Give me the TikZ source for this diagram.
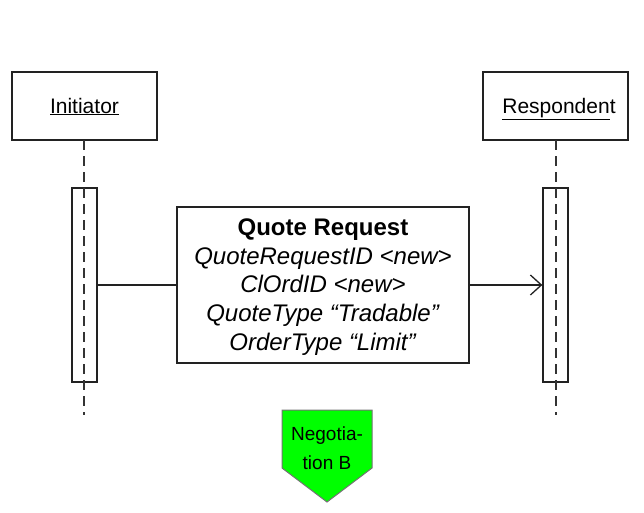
\documentclass[tikz,border=0pt]{standalone}
\usepackage{fontspec}
\setmainfont{Liberation Sans}
\usetikzlibrary{arrows.meta}
\definecolor{ln}{HTML}{222222}
\definecolor{dl}{HTML}{333333}
\definecolor{neg}{HTML}{00FF00}
\tikzset{
  actor/.style={draw=ln, line width=1.3pt, minimum width=145pt, minimum height=68pt, inner sep=0pt},
  actlabel/.style={inner sep=0pt, text height=15pt, text depth=5pt, font=\fontsize{21}{25}\selectfont},
  actbar/.style={draw=ln, line width=1.3pt, minimum width=25pt, minimum height=194pt, inner sep=0pt},
  msgbox/.style={draw=ln, line width=1.6pt, fill=white, minimum width=292pt, minimum height=156pt, inner sep=0pt},
  msgtext/.style={inner sep=0pt, align=center, font=\fontsize{24}{28.7}\selectfont},
  lifeline/.style={draw=dl, line width=2pt, dash pattern=on 10pt off 6pt},
  msgline/.style={draw=ln, line width=1.3pt},
}
\begin{document}
\begin{tikzpicture}[x=1pt,y=-1pt]
\useasboundingbox (0,0) rectangle (644,512);
\node[actor] (ini) at (84.5,106) {};
\node[actor] (res) at (555.5,106) {};
\node[actlabel] (inil) at (84.5,108) {\underline{Initiator}};
\node[actlabel] (resl) at (559,108) {\underline{Responden}t};
\node[actbar] (ibar) at (84.5,285) {};
\node[actbar] (rbar) at (555.5,285) {};
\coordinate (itop) at (84,140);
\coordinate (iend) at (84,415);
\coordinate (rtop) at (556,140);
\coordinate (rend) at (556,415);
\draw[lifeline] (itop) -- (iend);
\draw[lifeline] (rtop) -- (rend);
\node[msgbox] (msg) at (323,285) {};
\node[msgtext] (msgt) at (323,287) {\textbf{Quote Request}\\ \textit{QuoteRequestID <new>}\\ \textit{ClOrdID <new>}\\ \textit{QuoteType “Tradable”}\\ \textit{OrderType “Limit”}};
\draw[msgline] (ibar.east |- msg.west) -- (msg.west);
\draw[msgline, -{Straight Barb[length=11pt,width=20pt,line width=1.3pt]}] (msg.east) -- (rbar.west |- msg.east);
\filldraw[fill=neg, draw=black!55, line width=1pt] (282,410) -- (372,410) -- (372,468) -- (327,502) -- (282,468) -- cycle;
\node[align=center, font=\fontsize{19}{29}\selectfont, inner sep=0pt] (negt) at (327,448) {Negotia-\\tion B};
\end{tikzpicture}
\end{document}
